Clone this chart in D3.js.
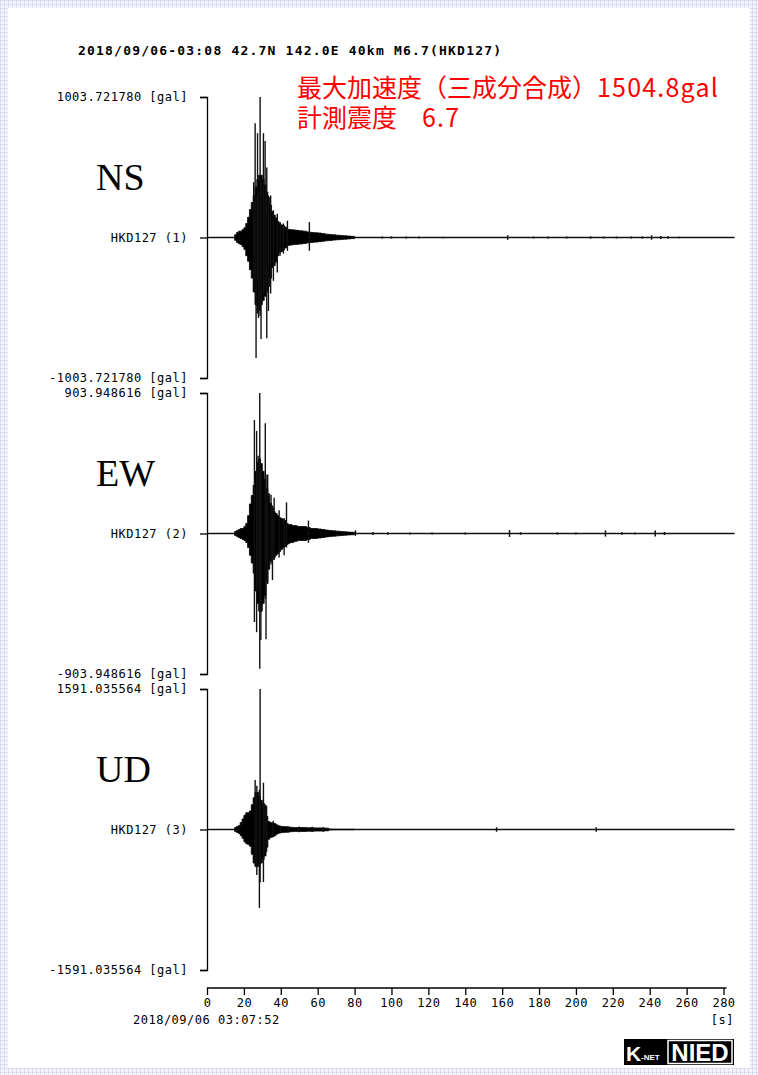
<!DOCTYPE html>
<html>
<head>
<meta charset="utf-8">
<script src="https://cdn.jsdelivr.net/npm/d3@7/dist/d3.min.js"></script>
<style>
body{margin:0;background:#fff;}
.mono{font-family:"DejaVu Sans Mono",monospace;font-size:12px;letter-spacing:0.5px;fill:#000;}
.comp{font-family:"Liberation Serif",serif;font-size:38px;fill:#000;}
.red{font-family:"Noto Sans CJK JP",sans-serif;font-size:25px;fill:#ff0000;}
</style>
</head>
<body>
<svg id="chart"></svg>
<script>
// header text
var title = "2018/09/06-03:08 42.7N 142.0E 40km M6.7(HKD127)";
var redLines = [["最大加速度（三成分合成）", "1504.8gal"], ["計測震度　", "6.7"]];
var startTime = "2018/09/06 03:07:52";

// channels
var channels = ["NS", "EW", "UD"];
var stations = ["HKD127 (1)", "HKD127 (2)", "HKD127 (3)"];
var fullScale = [1003.721780, 903.948616, 1591.035564];
var timeTicks = [0, 20, 40, 60, 80, 100, 120, 140, 160, 180, 200, 220, 240, 260, 280];
var recordEnd = 286;

// envelope of the dense part [gal]
var bodyTimes = [15,16,17,18,19,20,21,22,23,24,25,26,27,28,29,30,31,32,33,34,35,36,37,38,39,40,
  41,42,43,44,45,46,47,48,49,50,52,54,56,58,60,62,64,66,68,70,72,74,76,78,80];

var nsUp = [20,35,45,45,55,70,100,145,200,250,300,360,415,445,445,415,375,325,285,230,185,160,140,115,100,90,
  85,75,60,58,56,55,54,52,50,48,45,40,36,34,32,28,24,21,19,16,14,12,10,8,6];
var nsDown = [20,35,45,50,65,85,130,170,230,290,390,480,540,520,480,450,420,390,350,290,215,200,175,130,108,100,
  90,75,60,56,54,52,50,50,48,46,43,38,35,33,30,27,23,21,18,16,14,12,10,8,6];

var ewUp = [13,20,26,32,32,45,65,115,190,245,310,400,460,480,450,400,350,290,255,195,165,140,128,115,102,96,
  90,83,64,58,58,52,52,50,45,45,45,38,32,32,29,26,22,19,17,15,13,11,9,8,6];
var ewDown = [13,20,26,32,38,45,58,90,140,190,255,370,450,500,500,450,400,310,230,180,165,155,140,128,115,102,
  90,83,70,64,58,58,52,50,45,45,45,38,32,32,29,26,22,19,17,15,13,11,9,8,6];

var udUp = [22,34,45,80,120,160,190,190,210,280,360,420,420,380,330,300,270,150,90,80,75,70,60,45,40,35,
  34,32,30,28,25,24,22,22,22,22,22,20,20,18,18,17,15,4,3,2,2,2,2,2,2];
var udDown = [22,34,45,70,100,140,160,170,190,280,380,420,420,400,380,340,300,200,110,90,85,75,60,45,40,35,
  34,32,30,28,25,24,22,22,22,22,22,20,20,18,18,17,15,4,3,2,2,2,2,2,2];

// single large swings [time s, up gal, down gal]
var nsSpikes = [[25.3,395,360],[26.1,817,300],[26.6,300,860],[27.4,745,320],[27.9,330,575],[28.8,1003,560],
  [29.3,420,725],[30.6,745,400],[31.5,690,380],[32.4,500,720],[33.3,300,525],[34.5,300,400],[36.0,195,310],
  [38.1,170,250],[39.6,110,130],[41.4,100,115],[43.6,120,95],[55.5,110,95]];
var ewSpikes = [[25.7,730,570],[26.9,660,635],[27.7,500,365],[28.6,904,870],[29.2,420,686],[31.6,710,420],
  [32.0,380,680],[32.9,380,325],[34.7,250,200],[35.5,180,300],[36.4,230,170],[39.1,150,155],[41.8,100,140],
  [43.1,200,90],[55.0,83,60],[80.5,20,15]];
var udSpikes = [[26.1,560,400],[27.0,495,515],[28.4,450,890],[28.8,1591,600],[30.6,530,595],[31.4,290,255],
  [32.3,270,255],[35.9,100,80],[40.0,40,40],[44.0,38,35],[50.0,35,30],[57.0,30,28],[63.0,28,25]];

// small blips on the quiet tail [time s, gal]
var nsBlips = [[95,8],[100,8],[108,7],[115,7],[128,6],[163,16],[177,7],[185,7],[195,7],[208,8],[215,7],
  [222,7],[230,7],[236,8],[241,16],[246,10],[250,9],[256,6]];
var ewBlips = [[90,10],[98,8],[110,7],[122,7],[140,7],[164,22],[170,8],[190,7],[200,7],[216,20],[225,8],
  [232,7],[243,20],[248,10]];
var udBlips = [[157,25],[211,25]];

var ups = [nsUp, ewUp, udUp];
var downs = [nsDown, ewDown, udDown];
var spikes = [nsSpikes, ewSpikes, udSpikes];
var blips = [nsBlips, ewBlips, udBlips];

var width = 758, height = 1075;
var svg = d3.select("#chart").attr("width", width).attr("height", height);

// grid page background and white sheet
var defs = svg.append("defs");
var pat = defs.append("pattern").attr("id", "grid")
  .attr("width", 4).attr("height", 4).attr("patternUnits", "userSpaceOnUse");
pat.append("rect").attr("width", 4).attr("height", 4).attr("fill", "#f4f4fc");
pat.append("path").attr("d", "M0,0.5H4M0.5,0V4").attr("stroke", "#dcdcf2").attr("stroke-width", 1);
svg.append("rect").attr("width", width).attr("height", height).attr("fill", "url(#grid)");
svg.append("rect").attr("x", 8).attr("y", 8).attr("width", 742).attr("height", 1060).attr("fill", "#fff");

svg.append("text").attr("class", "mono")
  .attr("x", 78).attr("y", 55)
  .style("font-size", "13px").style("font-weight", "bold").style("letter-spacing", "1.2px")
  .text(title);

var red = svg.selectAll(".red").data(redLines).enter().append("text")
  .attr("class", "red")
  .attr("x", 297)
  .attr("y", function(d, i) { return 97 + i * 30; });
red.append("tspan").text(function(d) { return d[0]; });
red.append("tspan").style("letter-spacing", "1.2px").text(function(d) { return d[1]; });

var x = d3.scaleLinear().domain([0, 280]).range([207, 723.5]);

var panelTop = [97, 393, 689], panelH = 281;

channels.forEach(function(ch, k) {
  var m = fullScale[k];
  var y = d3.scaleLinear().domain([-m, m]).range([panelTop[k] + panelH, panelTop[k]]);
  var g = svg.append("g");

  var ax = g.append("g").attr("transform", "translate(" + x(0) + ",0)")
    .call(d3.axisLeft(y).tickValues([-m, 0, m]).tickSize(7).tickSizeOuter(7).tickPadding(12)
      .tickFormat(function(v) {
        if (v === 0) return stations[k];
        return (v < 0 ? "-" : "") + Math.abs(v).toFixed(6) + " [gal]";
      }));
  ax.selectAll("text").attr("class", "mono").attr("font-family", null).attr("font-size", null);
  ax.selectAll("path,line").attr("stroke", "#000").attr("stroke-width", 1.3);

  g.append("text").attr("class", "comp")
    .attr("x", 96).attr("y", y(0) - 48)
    .text(ch);

  // baseline of the record
  g.append("line")
    .attr("x1", x(0)).attr("x2", x(recordEnd))
    .attr("y1", y(0)).attr("y2", y(0))
    .attr("stroke", "#111").attr("stroke-width", 1.5);

  // dense envelope
  var rows = bodyTimes.map(function(t, i) { return {t: t, up: ups[k][i], dn: downs[k][i]}; });
  var area = d3.area()
    .curve(d3.curveStepAfter)
    .x(function(d) { return x(d.t); })
    .y0(function(d) { return y(-d.dn); })
    .y1(function(d) { return y(d.up); });
  g.append("path").datum(rows).attr("d", area)
    .attr("fill", "#000").attr("stroke", "#000").attr("stroke-width", 0.8);

  g.selectAll(".spike").data(spikes[k]).enter().append("line")
    .attr("x1", function(d) { return x(d[0]); })
    .attr("x2", function(d) { return x(d[0]); })
    .attr("y1", function(d) { return y(d[1]); })
    .attr("y2", function(d) { return y(-d[2]); })
    .attr("stroke", "#111").attr("stroke-width", 1.4);

  g.selectAll(".blip").data(blips[k]).enter().append("line")
    .attr("x1", function(d) { return x(d[0]); })
    .attr("x2", function(d) { return x(d[0]); })
    .attr("y1", function(d) { return y(d[1]); })
    .attr("y2", function(d) { return y(-d[1]); })
    .attr("stroke", "#111").attr("stroke-width", 1.5);
});

// time axis
var xa = svg.append("g").attr("transform", "translate(0,988)")
  .call(d3.axisBottom(x).tickValues(timeTicks).tickSize(7).tickSizeOuter(0).tickPadding(3));
xa.select(".domain").attr("d", "M" + x(0) + ",0H" + (x(280) + 3));
xa.selectAll("text").attr("class", "mono").attr("font-family", null).attr("font-size", null);
xa.selectAll("path,line").attr("stroke", "#000").attr("stroke-width", 1.3);

svg.append("text").attr("class", "mono").attr("x", 133).attr("y", 1024).text(startTime);
svg.append("text").attr("class", "mono").attr("x", 734).attr("y", 1024)
  .attr("text-anchor", "end").text("[s]");

// K-NET NIED mark
var logo = svg.append("g").attr("transform", "translate(624,1039)");
logo.append("rect").attr("width", 110).attr("height", 26).attr("fill", "#000");
logo.append("text").attr("x", 2).attr("y", 22)
  .style("font-family", "Liberation Sans").style("font-weight", "bold").style("font-size", "21px")
  .attr("fill", "#fff").text("K");
logo.append("text").attr("x", 17).attr("y", 21)
  .style("font-family", "Liberation Sans").style("font-weight", "bold").style("font-size", "8px")
  .attr("fill", "#fff").text("-NET");
logo.append("rect").attr("x", 44).attr("y", 1.5).attr("width", 64).attr("height", 23)
  .attr("fill", "none").attr("stroke", "#fff").attr("stroke-width", 1.5);
logo.append("text").attr("x", 76).attr("y", 22).attr("text-anchor", "middle")
  .style("font-family", "Liberation Sans").style("font-weight", "bold").style("font-size", "24px")
  .attr("fill", "#fff").text("NIED");
</script>
</body>
</html>
